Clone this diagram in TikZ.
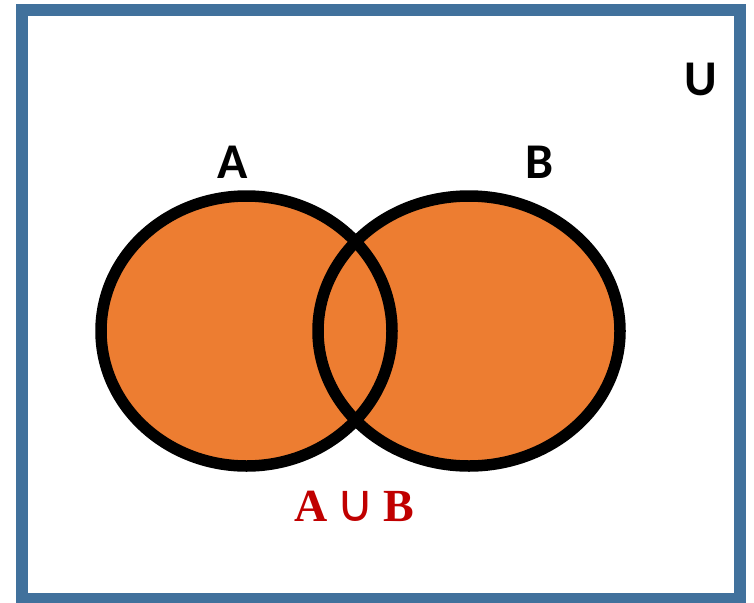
\documentclass[tikz,border=0pt]{standalone}
\usepackage{fontspec}
\setmainfont{Carlito}
\newfontfamily\serifbold{Liberation Serif}
\newfontfamily\symbolfont{DejaVu Sans}
\definecolor{frameblue}{HTML}{41719C}
\definecolor{setorange}{HTML}{ED7D31}
\definecolor{unionred}{HTML}{C00000}
\begin{document}
\begin{tikzpicture}[x=1pt,y=-1pt,
  setfill/.style={fill=setorange},
  setline/.style={draw=black,line width=11.5pt},
  setlabel/.style={font=\fontsize{50}{50}\selectfont\bfseries,inner sep=0pt,anchor=center}]
\useasboundingbox (0,0) rectangle (754,602);
\clip (0,0) rectangle (754,602);
\draw[frameblue,line width=12pt] (22,10) rectangle (740,599);
\fill[setfill] (246.5,331) ellipse [x radius=145.5, y radius=135];
\fill[setfill] (469,331) ellipse [x radius=151, y radius=135];
\draw[setline] (246.5,331) ellipse [x radius=145.5, y radius=135];
\draw[setline] (469,331) ellipse [x radius=151, y radius=135];
\node[setlabel] (A) at (233,162) {A};
\node[setlabel] (B) at (540,162) {B};
\node[setlabel] (U) at (701,79) {U};
\node[inner sep=0pt,text=unionred,font=\fontsize{46}{46}\selectfont\serifbold\bfseries] (AuB) at (354,506) {A\hspace{9pt}{\fontsize{52}{52}\selectfont\symbolfont\mdseries ∪}\hspace{9pt}B};
\end{tikzpicture}
\end{document}
